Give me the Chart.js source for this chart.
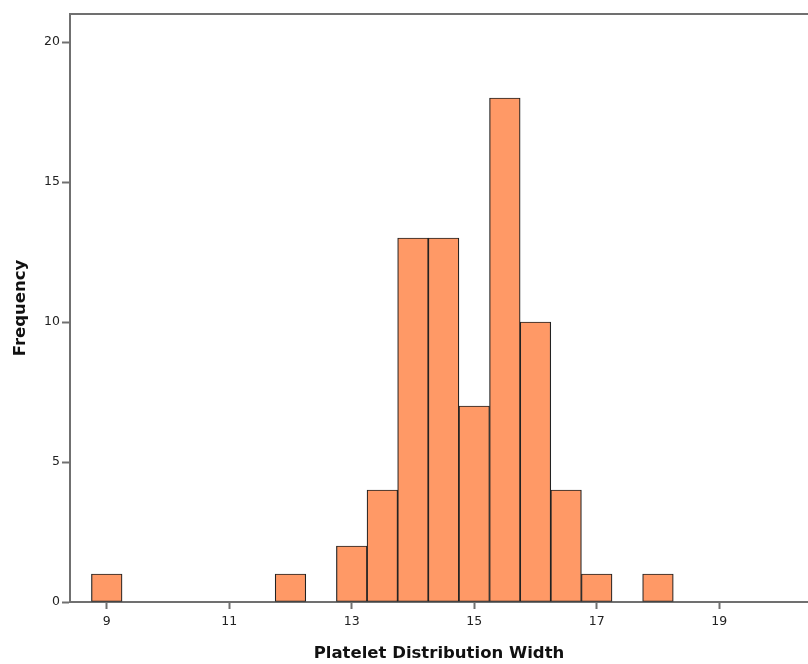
<!DOCTYPE html>
<html>
<head>
<meta charset="utf-8">
<script src="https://cdn.jsdelivr.net/npm/chart.js@4/dist/chart.umd.min.js"></script>
<style>
html,body{margin:0;padding:0;background:#fff;}
#wrap{width:808px;height:664px;}
</style>
</head>
<body>
<div id="wrap"><canvas id="c" width="808" height="664"></canvas></div>
<script>
// Histogram bin centers (bin width 0.5) and frequencies
const binCenters = [9, 12, 13, 13.5, 14, 14.5, 15, 15.5, 16, 16.5, 17, 18];
const frequencies = [1, 1, 2, 4, 13, 13, 7, 18, 10, 4, 1, 1];
const xTicks = [9, 11, 13, 15, 17, 19];
const yTicks = [0, 5, 10, 15, 20];

const points = binCenters.map((x, i) => ({x: x, y: frequencies[i]}));

const frame = {
  id: 'frame',
  afterDraw(chart) {
    const a = chart.chartArea, ctx = chart.ctx;
    ctx.save();
    ctx.strokeStyle = '#707070';
    ctx.lineWidth = 2;
    ctx.beginPath();
    ctx.moveTo(a.left, a.top);
    ctx.lineTo(a.right, a.top);
    ctx.stroke();
    ctx.restore();
  }
};

new Chart(document.getElementById('c'), {
  type: 'bar',
  data: {
    datasets: [{
      data: points,
      backgroundColor: '#FF9966',
      borderColor: '#222222',
      borderWidth: 1.2,
      borderSkipped: false,
      barPercentage: 1,
      categoryPercentage: 1,
      grouped: false
    }]
  },
  plugins: [frame],
  options: {
    responsive: false,
    animation: false,
    layout: {padding: {top: 14, right: 0, left: 0, bottom: 0}},
    plugins: {legend: {display: false}, tooltip: {enabled: false}},
    scales: {
      x: {
        type: 'linear',
        offset: false,
        min: 8.4,
        max: 20.45,
        afterBuildTicks(scale) { scale.ticks = xTicks.map(v => ({value: v})); },
        afterFit(scale) { scale.height = 62; },
        border: {color: '#707070', width: 2},
        grid: {display: true, offset: false, drawOnChartArea: false, drawTicks: true, tickLength: 7, tickColor: '#707070', tickWidth: 2},
        ticks: {color: '#222', font: {family: 'DejaVu Sans', size: 12.5}, padding: 5, maxRotation: 0},
        title: {display: true, text: 'Platelet Distribution Width', color: '#111', font: {family: 'DejaVu Sans', size: 16.5, weight: 'bold'}, padding: {top: 4, bottom: 0}}
      },
      y: {
        type: 'linear',
        min: 0,
        max: 21,
        afterBuildTicks(scale) { scale.ticks = yTicks.map(v => ({value: v})); },
        afterFit(scale) { scale.width = 70; },
        border: {color: '#707070', width: 2},
        grid: {display: true, drawOnChartArea: false, drawTicks: true, tickLength: 8, tickColor: '#707070', tickWidth: 2},
        ticks: {color: '#222', font: {family: 'DejaVu Sans', size: 12.5}, padding: 2},
        title: {display: true, text: 'Frequency', color: '#111', font: {family: 'DejaVu Sans', size: 16.5, weight: 'bold'}, padding: {top: 11, bottom: 4}}
      }
    }
  }
});
</script>
</body>
</html>
